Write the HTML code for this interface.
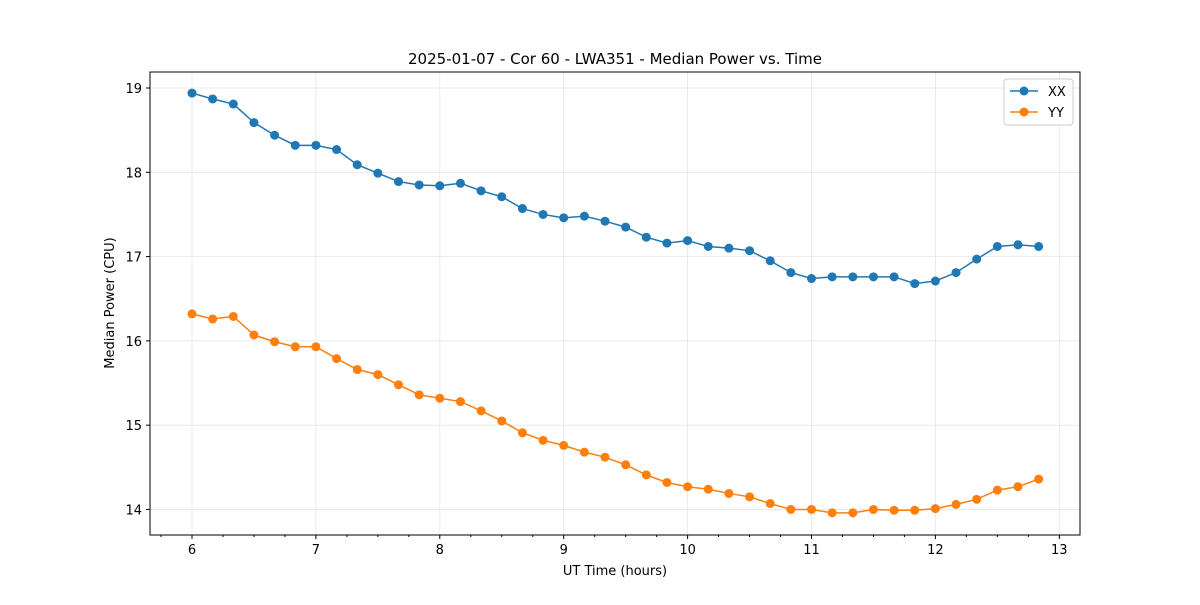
<!DOCTYPE html>
<html><head><meta charset="utf-8"><style>
body{margin:0;background:#fff;}
svg text{font-family:"DejaVu Sans","Liberation Sans",sans-serif;fill:#000;}
</style></head><body>
<svg id="chart" width="1200" height="600" xmlns="http://www.w3.org/2000/svg">
<rect width="1200" height="600" fill="#fff"/>
<g id="grid"></g>
<g id="axes"></g>
<g id="series"></g>
<rect x="150" y="72" width="930" height="463" fill="none" stroke="#000" stroke-width="1"/>
<text x="615" y="64" font-size="15" text-anchor="middle">2025-01-07 - Cor 60 - LWA351 - Median Power vs. Time</text>
<text x="615" y="575" font-size="13" text-anchor="middle">UT Time (hours)</text>
<text x="114" y="303" font-size="13" text-anchor="middle" transform="rotate(-90 114 303)">Median Power (CPU)</text>
<g>
<rect x="1004" y="79" width="69" height="46" fill="#fff" stroke="#ccc" rx="3"/>
<g><line x1="1010" y1="91" x2="1038" y2="91" stroke="#1f77b4" stroke-width="1.5"/><circle cx="1024" cy="91" r="4.5" fill="#1f77b4"/><text x="1048" y="96" font-size="13">XX</text></g>
<g><line x1="1010" y1="112" x2="1038" y2="112" stroke="#ff7f0e" stroke-width="1.5"/><circle cx="1024" cy="112" r="4.5" fill="#ff7f0e"/><text x="1048" y="117" font-size="13">YY</text></g>
</g>
</svg>
<script>
const xTicks=[6,7,8,9,10,11,12,13];
const yTicks=[14,15,16,17,18,19];
const xxValues=[18.94,18.87,18.81,18.59,18.44,18.32,18.32,18.27,18.09,17.99,17.89,17.85,17.84,17.87,17.78,17.71,17.57,17.50,17.46,17.48,17.42,17.35,17.23,17.16,17.19,17.12,17.10,17.07,16.95,16.81,16.74,16.76,16.76,16.76,16.76,16.68,16.71,16.81,16.97,17.12,17.14,17.12];
const yyValues=[16.32,16.26,16.29,16.07,15.99,15.93,15.93,15.79,15.66,15.60,15.48,15.36,15.32,15.28,15.17,15.05,14.91,14.82,14.76,14.68,14.62,14.53,14.41,14.32,14.27,14.24,14.19,14.15,14.07,14.00,14.00,13.96,13.96,14.00,13.99,13.99,14.01,14.06,14.12,14.23,14.27,14.36];
const startHour=6, stepHour=1/6;
const NS="http://www.w3.org/2000/svg";
const X0=150,X1=1080,Y0=72,Y1=535;
const xMin=5.661,xMax=13.167,yMin=13.697,yMax=19.19;
const sx=v=>X0+(v-xMin)/(xMax-xMin)*(X1-X0);
const sy=v=>Y1-(v-yMin)/(yMax-yMin)*(Y1-Y0);
function mk(tag,attrs,parent){const e=document.createElementNS(NS,tag);for(const k in attrs)e.setAttribute(k,attrs[k]);parent.appendChild(e);return e;}
const grid=document.getElementById('grid'),axes=document.getElementById('axes'),series=document.getElementById('series');
xTicks.forEach(t=>{const x=sx(t);
 const g=mk('line',{x1:x,x2:x,y1:Y0,y2:Y1,stroke:'#e6e6e6','stroke-width':0.8},grid);
 
 
 const tk=mk('line',{x1:x,x2:x,y1:Y1,y2:Y1+4,stroke:'#000'},axes);
 
 
 const tx=mk('text',{x:x,y:Y1+19,'font-size':13,'text-anchor':'middle'},axes);tx.textContent=t;
 
 
});
for(let m=5.75;m<=13.1;m+=0.25){if(Math.abs(m-Math.round(m))<1e-6)continue;const x=sx(m);
 const tk=mk('line',{x1:x,x2:x,y1:Y1,y2:Y1+2,stroke:'#000'},axes);
 
 }
yTicks.forEach(t=>{const y=sy(t);
 const g=mk('line',{x1:X0,x2:X1,y1:y,y2:y,stroke:'#e6e6e6','stroke-width':0.8},grid);
 
 
 const tk=mk('line',{x1:X0-4,x2:X0,y1:y,y2:y,stroke:'#000'},axes);
 
 
 const tx=mk('text',{x:X0-8,y:y+5,'font-size':13,'text-anchor':'end'},axes);tx.textContent=t;
 
 
});
function draw(vals,color,name){
 const pts=vals.map((v,i)=>[sx(startHour+i*stepHour),sy(v)]);
 const pl=mk('polyline',{points:pts.map(p=>p.join(',')).join(' '),fill:'none',stroke:color,'stroke-width':1.5},series);
 
 
 pts.forEach(p=>{const c=mk('circle',{cx:p[0],cy:p[1],r:4.5,fill:color},series);
  
  });
}
draw(xxValues,'#1f77b4','xx');
draw(yyValues,'#ff7f0e','yy');
</script>
</body></html>
